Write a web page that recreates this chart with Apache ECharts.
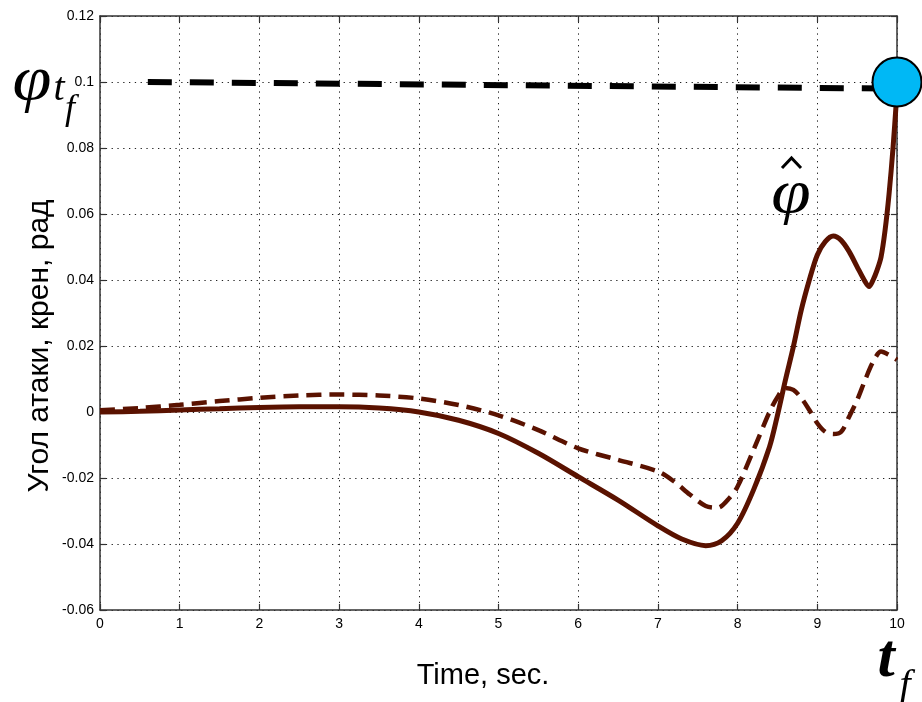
<!DOCTYPE html>
<html>
<head>
<meta charset="utf-8">
<script src="https://cdn.jsdelivr.net/npm/echarts@6/dist/echarts.min.js"></script>
<style>
  html, body { margin: 0; padding: 0; background: #fff; }
  #chart { width: 922px; height: 702px; }
</style>
</head>
<body>
<div id="chart"></div>
<script>
// Time samples (s) and values (rad) of the estimated angle (solid curve)
const tSolid = [0, 0.5, 1, 1.5, 2, 2.5, 3, 3.5, 4, 4.5, 5, 5.5, 6, 6.5, 7, 7.3, 7.6, 7.8, 8, 8.2, 8.4, 8.5, 8.6, 8.7, 8.8, 8.9, 9.0, 9.1, 9.2, 9.3, 9.4, 9.5, 9.6, 9.65, 9.7, 9.75, 9.8, 9.85, 9.9, 9.95, 10];
const vSolid = [0, 0.0002, 0.0006, 0.001, 0.0014, 0.0016, 0.0016, 0.0012, 0.0, -0.0025, -0.0065, -0.0125, -0.0196, -0.0267, -0.0345, -0.0385, -0.0405, -0.039, -0.0337, -0.0236, -0.0106, -0.001, 0.0097, 0.0198, 0.031, 0.040, 0.0476, 0.0516, 0.0533, 0.052, 0.0486, 0.044, 0.0395, 0.038, 0.040, 0.043, 0.047, 0.055, 0.066, 0.08, 0.097];

// Second angle (dashed curve)
const tDashed = [0, 0.5, 1, 1.5, 2, 2.5, 3, 3.5, 4, 4.5, 5, 5.5, 6, 6.5, 7, 7.2, 7.4, 7.6, 7.75, 7.9, 8.0, 8.2, 8.4, 8.5, 8.6, 8.7, 8.8, 8.9, 9.0, 9.1, 9.2, 9.3, 9.4, 9.5, 9.6, 9.7, 9.8, 9.9, 10];
const vDashed = [0.0005, 0.0012, 0.0022, 0.0033, 0.0043, 0.005, 0.0053, 0.005, 0.0041, 0.0021, -0.001, -0.0055, -0.011, -0.0145, -0.018, -0.021, -0.025, -0.0285, -0.029, -0.026, -0.0226, -0.0115, 0.0, 0.0045, 0.0073, 0.0067, 0.0042, 0.0006, -0.0034, -0.006, -0.0067, -0.006, -0.0014, 0.0036, 0.0097, 0.0152, 0.0183, 0.0173, 0.0158];

// Target level line and terminal point
const tTarget = [0.6, 10];
const vTarget = [0.1, 0.098];
const terminalPoint = [10, 0.1];

// Axis ticks
const xTicks = [0, 1, 2, 3, 4, 5, 6, 7, 8, 9, 10];
const xTickLabels = ['0', '1', '2', '3', '4', '5', '6', '7', '8', '9', '10'];
const yTicks = [-0.06, -0.04, -0.02, 0, 0.02, 0.04, 0.06, 0.08, 0.1, 0.12];
const yTickLabels = ['-0.06', '-0.04', '-0.02', '0', '0.02', '0.04', '0.06', '0.08', '0.1', '0.12'];

const xLabel = 'Time, sec.';
const yLabel = 'Угол атаки, крен, рад';

function zip(xs, ys) { return xs.map((x, i) => [x, ys[i]]); }
function tickLabel(ticks, labels) {
  return function (v) {
    for (let i = 0; i < ticks.length; i++) {
      if (Math.abs(ticks[i] - v) < 1e-9) return labels[i];
    }
    return '';
  };
}

const AXIS_COLOR = '#333';
const CURVE_COLOR = '#5a1200';
const gridLine = { show: true, lineStyle: { color: '#222', width: 1, type: [1.3, 4.5] } };

const chart = echarts.init(document.getElementById('chart'), null, { renderer: 'canvas' });

chart.setOption({
  backgroundColor: '#fff',
  animation: false,
  grid: { left: 100, right: 25, top: 16, bottom: 92, containLabel: false },
  xAxis: [{
    type: 'value', min: 0, max: 10, interval: 1, position: 'bottom',
    axisLine: { show: true, onZero: false, lineStyle: { color: AXIS_COLOR, width: 1.5 } },
    axisTick: { show: true, inside: true, length: 6, lineStyle: { color: AXIS_COLOR, width: 1.2 } },
    axisLabel: { margin: 7, color: '#000', fontSize: 14, fontFamily: 'Liberation Sans', formatter: tickLabel(xTicks, xTickLabels) },
    splitLine: gridLine
  }, {
    type: 'value', min: 0, max: 10, interval: 1, position: 'top',
    axisLine: { show: true, onZero: false, lineStyle: { color: AXIS_COLOR, width: 1.5 } },
    axisTick: { show: true, inside: true, length: 6, lineStyle: { color: AXIS_COLOR, width: 1.2 } },
    axisLabel: { show: false }, splitLine: { show: false }
  }],
  yAxis: [{
    type: 'value', min: -0.06, max: 0.12, interval: 0.02, position: 'left',
    axisLine: { show: true, onZero: false, lineStyle: { color: AXIS_COLOR, width: 1.5 } },
    axisTick: { show: true, inside: true, length: 6, lineStyle: { color: AXIS_COLOR, width: 1.2 } },
    axisLabel: { margin: 6, color: '#000', fontSize: 14, fontFamily: 'Liberation Sans', formatter: tickLabel(yTicks, yTickLabels) },
    splitLine: gridLine
  }, {
    type: 'value', min: -0.06, max: 0.12, interval: 0.02, position: 'right',
    axisLine: { show: true, onZero: false, lineStyle: { color: AXIS_COLOR, width: 1.5 } },
    axisTick: { show: true, inside: true, length: 6, lineStyle: { color: AXIS_COLOR, width: 1.2 } },
    axisLabel: { show: false }, splitLine: { show: false }
  }],
  series: [
    {
      name: 'target', type: 'line', data: zip(tTarget, vTarget),
      showSymbol: false, z: 3,
      lineStyle: { color: '#000', width: 6, type: [24, 18], cap: 'butt' }
    },
    {
      name: 'dashed', type: 'line', data: zip(tDashed, vDashed), smooth: 0.3,
      showSymbol: false, z: 4,
      lineStyle: { color: CURVE_COLOR, width: 4.5, type: [15, 8], cap: 'butt' }
    },
    {
      name: 'solid', type: 'line', data: zip(tSolid, vSolid), smooth: 0.3,
      showSymbol: false, z: 5,
      lineStyle: { color: CURVE_COLOR, width: 5 }
    },
    {
      name: 'terminal', type: 'scatter', data: [terminalPoint], clip: false, z: 6,
      symbol: 'circle', symbolSize: 49,
      itemStyle: { color: '#00b8f5', opacity: 1, borderColor: '#000', borderWidth: 2 }
    }
  ],
  graphic: [
    // axis names
    { type: 'text', x: 483, y: 676, style: { text: xLabel, font: '29px "Liberation Sans"', fill: '#000', align: 'center', verticalAlign: 'middle' } },
    { type: 'text', x: 40, y: 346, rotation: Math.PI / 2, style: { text: yLabel, font: '30px "Liberation Sans"', fill: '#000', align: 'center', verticalAlign: 'middle' } },
    // φ with subscript t_f on the left
    { type: 'text', x: 32, y: 82, scaleX: 1.1, style: { text: 'φ', font: 'italic 64px "Liberation Serif"', fill: '#000', align: 'center', verticalAlign: 'middle' } },
    { type: 'text', x: 59, y: 89, style: { text: 't', font: 'italic 40px "Liberation Serif"', fill: '#000', align: 'center', verticalAlign: 'middle' } },
    { type: 'text', x: 70, y: 110, style: { text: 'f', font: 'italic 36px "Liberation Serif"', fill: '#000', align: 'center', verticalAlign: 'middle' } },
    // φ with hat near the solid curve
    { type: 'text', x: 791, y: 196, scaleX: 1.15, style: { text: 'φ', font: 'italic 62px "Liberation Serif"', fill: '#000', align: 'center', verticalAlign: 'middle' } },
    { type: 'polyline', shape: { points: [[782, 168], [791.5, 158], [801, 168]] }, style: { stroke: '#000', lineWidth: 3, fill: null, lineJoin: 'miter' } },
    // t_f under the right end of the time axis
    { type: 'text', x: 886, y: 660, style: { text: 't', font: 'italic bold 62px "Liberation Serif"', fill: '#000', align: 'center', verticalAlign: 'middle' } },
    { type: 'text', x: 905, y: 686, style: { text: 'f', font: 'italic 40px "Liberation Serif"', fill: '#000', align: 'center', verticalAlign: 'middle' } }
  ]
});
</script>
</body>
</html>
